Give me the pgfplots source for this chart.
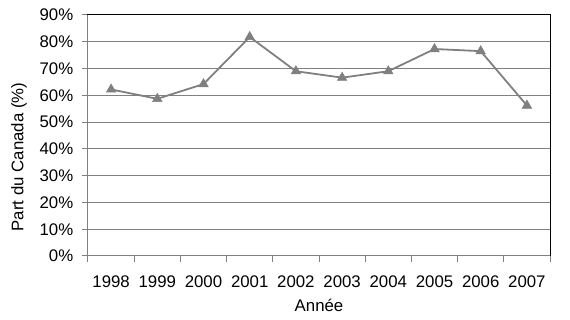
\documentclass[border=0pt]{standalone}
\usepackage{pgfplots}
\pgfplotsset{compat=1.18}
\usepackage{fontspec}
\setmainfont{Liberation Sans}
\definecolor{lgray}{HTML}{808080}
\begin{document}
\fontsize{16.8}{19}\selectfont
\begin{tikzpicture}
\useasboundingbox (-88pt,-64pt) rectangle (482pt,256pt);
\begin{axis}[
  at={(0,0)}, anchor=south west,
  scale only axis, width=462pt, height=241pt,
  xmin=-0.5, xmax=9.5, ymin=0, ymax=90,
  xtick={-0.5,0.5,...,9.5},
  x tick label as interval,
  xticklabels={1998,1999,2000,2001,2002,2003,2004,2005,2006,2007},
  ytick={0,10,...,90},
  yticklabel={\pgfmathprintnumber{\tick}\%},
  /pgf/number format/assume math mode=true,
  ymajorgrids,
  grid style={lgray, line width=1pt},
  axis line style={black, line width=1pt},
  major tick length=6pt,
  tick align=outside,
  tick style={lgray, line width=1pt},
  xtick pos=bottom, ytick pos=left,
  tick label style={font=\fontsize{16.8}{19}\selectfont},
  xticklabel style={anchor=base, yshift=-26pt},
  yticklabel style={anchor=east, xshift=-3pt},
  clip=false,
]
\draw[lgray, line width=1pt] (rel axis cs:0,0) -- (rel axis cs:0,1);
\draw[lgray, line width=1pt] (rel axis cs:0,0) -- (rel axis cs:1,0);
\node[rotate=90, font=\fontsize{16.8}{19}\selectfont] at (axis cs:-1.994,36.97) {Part du Canada (\%)};
\node[font=\fontsize{16.8}{19}\selectfont] at (axis cs:4.5,-18.3) {Année};
\addplot[lgray, line width=1.8pt, mark=triangle*, mark size=5.5pt, mark options={fill=lgray, draw=lgray, line width=0.5pt}]
coordinates {(0,62.2) (1,58.7) (2,64.2) (3,81.8) (4,69.0) (5,66.6) (6,69.0) (7,77.3) (8,76.5) (9,56.2)};
\end{axis}
\end{tikzpicture}
\end{document}
